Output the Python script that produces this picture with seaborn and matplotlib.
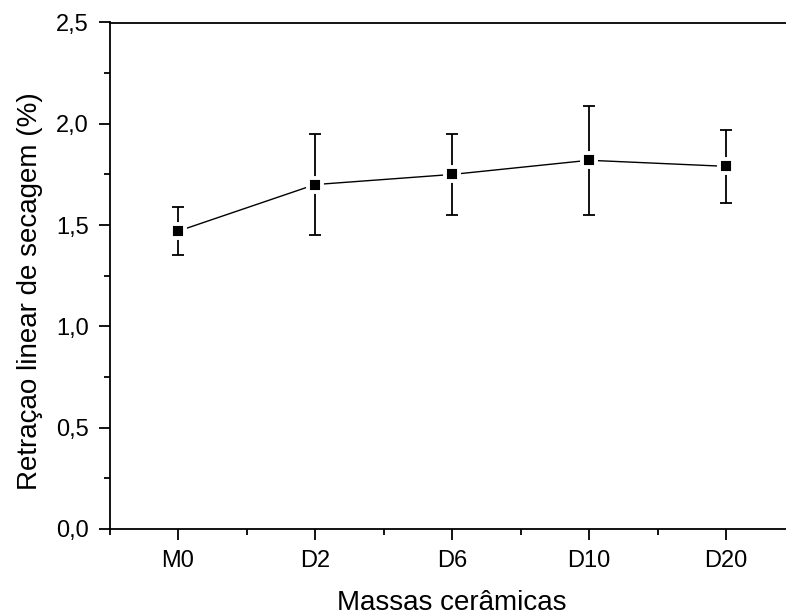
import matplotlib
matplotlib.use("Agg")
import matplotlib.pyplot as plt
import seaborn as sns
import pandas as pd
from matplotlib.ticker import FixedLocator, MultipleLocator, FuncFormatter

# Data
massas = ["M0", "D2", "D6", "D10", "D20"]
retracao = [1.47, 1.70, 1.75, 1.82, 1.79]
desvio = [0.12, 0.25, 0.20, 0.27, 0.18]
xlabel = "Massas cerâmicas"
ylabel = "Retraçao linear de secagem (%)"

sns.set_theme(style="ticks")
plt.rcParams["font.family"] = ["Liberation Sans", "DejaVu Sans"]

df = pd.DataFrame({"massa": massas, "valor": retracao, "desvio": desvio})

fig = plt.figure(figsize=(7.86, 6.16), dpi=100)
ax = fig.add_axes([109.5 / 786, 87 / 616, 685 / 786, 506.5 / 616])

ax.errorbar(range(len(massas)), df["valor"], yerr=df["desvio"], fmt="none",
            ecolor="black", elinewidth=1.3, capsize=4.2, capthick=1.3, zorder=1)

sns.pointplot(data=df, x="massa", y="valor", order=massas, color="black",
              markers="s", errorbar=None, ax=ax, linewidth=1.0,
              markersize=9.5, markeredgecolor="white", markeredgewidth=2.8,
              zorder=3)

ax.set_xlim(-0.5, 4.5)
ax.set_ylim(0, 2.5)
ax.yaxis.set_major_locator(MultipleLocator(0.5))
ax.yaxis.set_minor_locator(MultipleLocator(0.25))
ax.yaxis.set_major_formatter(FuncFormatter(lambda v, p: f"{v:.1f}".replace(".", ",")))
ax.xaxis.set_minor_locator(FixedLocator([-0.5, 0.5, 1.5, 2.5, 3.5, 4.5]))

for s in ["left", "bottom", "top", "right"]:
    ax.spines[s].set_visible(True)
    ax.spines[s].set_linewidth(1.3)
    ax.spines[s].set_color("black")

ax.tick_params(axis="both", which="major", direction="out", length=8, width=1.3,
               labelsize=17, color="black", labelcolor="black", pad=7)
ax.tick_params(axis="both", which="minor", direction="out", length=4, width=1.3,
               color="black")
ax.tick_params(top=False, right=False, which="both")

ax.set_xlabel(xlabel, fontsize=20, color="black")
ax.set_ylabel(ylabel, fontsize=20, color="black")
ax.xaxis.set_label_coords(0.5, -0.121)
ax.yaxis.set_label_coords(-0.097, 0.469)

fig.savefig("out.png", dpi=100)
